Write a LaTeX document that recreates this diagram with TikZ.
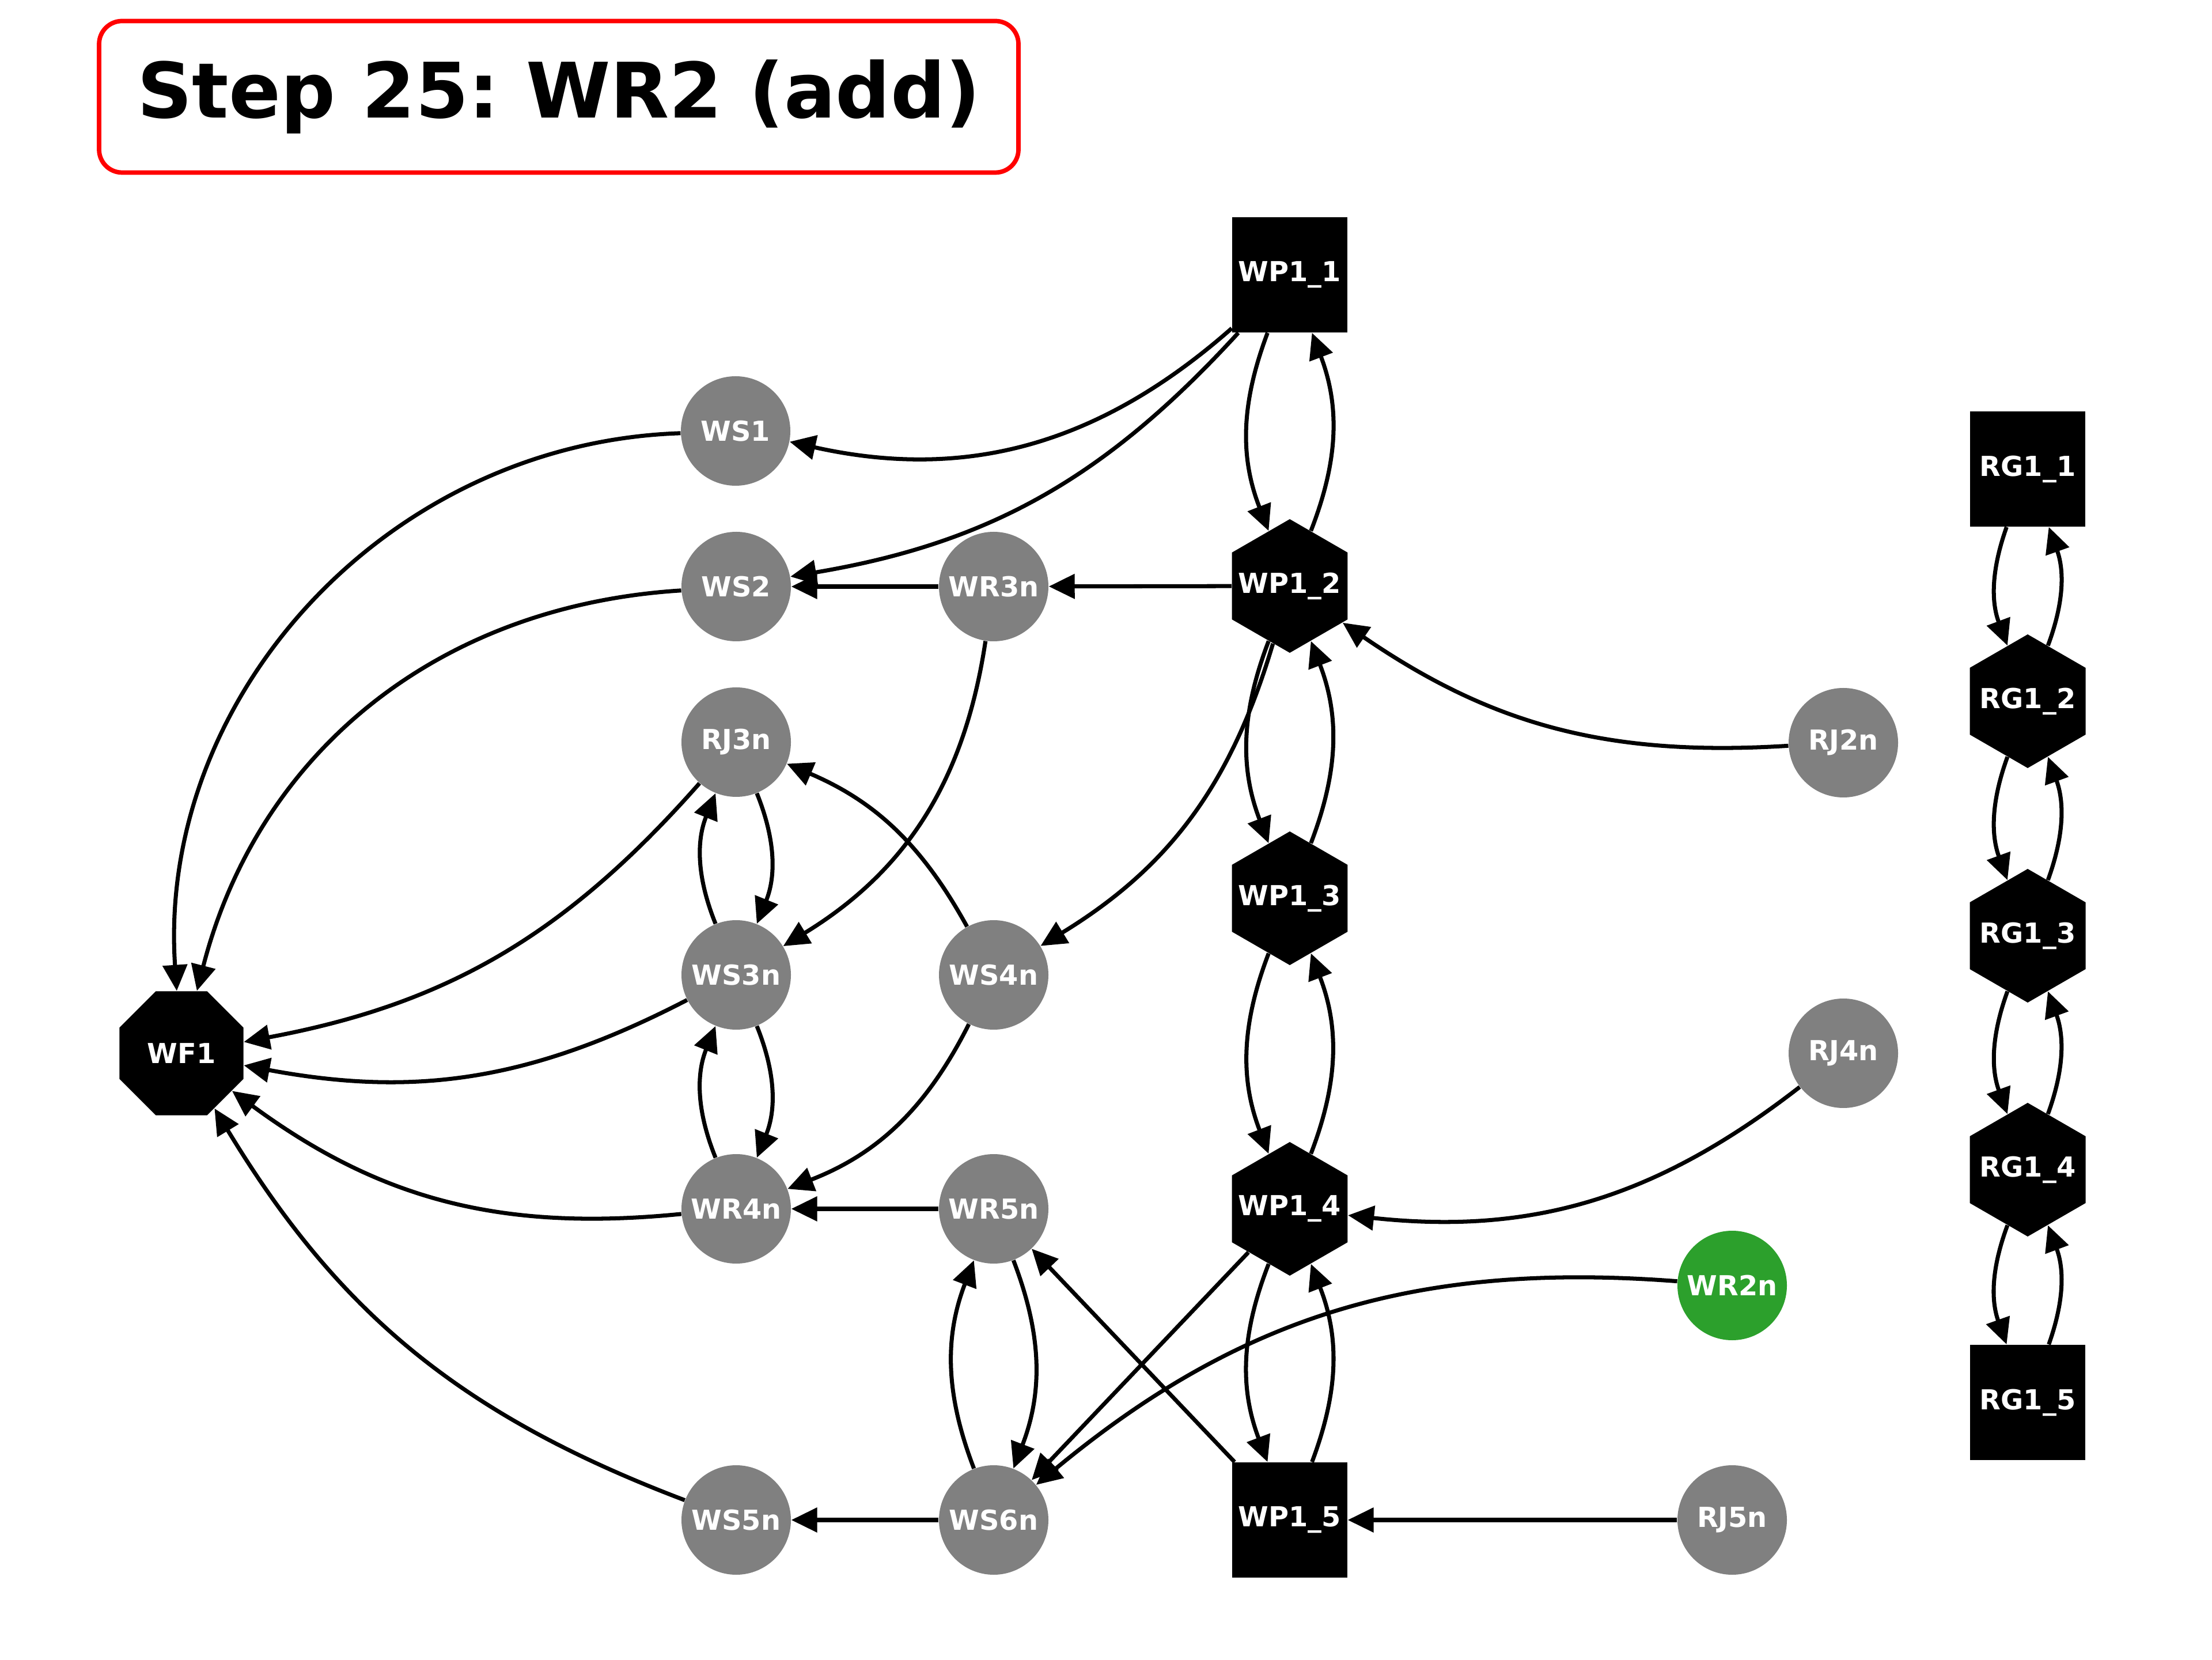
\documentclass[tikz,border=0pt]{standalone}
\usepackage{fontspec}
\setmainfont{DejaVu Sans}
\usepackage{xcolor}
\usepackage{tikz}
\usetikzlibrary{shapes,positioning,arrows.meta}

\definecolor{addgreen}{HTML}{2CA02C}

% hexagon labels take no width, so the size of the shape is fixed
\newcommand{\hexlabel}[1]{\makebox[0pt]{#1}}

\begin{document}
\frenchspacing
\begin{tikzpicture}[
    every node/.style={font=\fontsize{13.6}{16}\selectfont\bfseries, text=white, inner sep=0pt},
    gnode/.style={circle, fill=gray, minimum size=1.9cm},
    pbox/.style={rectangle, fill=black, minimum size=2cm},
    phex/.style={regular polygon, regular polygon sides=6, shape border rotate=30, fill=black, minimum size=2.32cm},
    foct/.style={regular polygon, regular polygon sides=8, fill=black, minimum size=2.33cm},
    link/.style={-{Triangle[length=0.45cm,width=0.42cm]}, line width=2pt},
    titlebox/.style={draw=red, line width=2.2pt, rounded corners=0.4cm, fill=white, text=black,
        font=\fontsize{37.8}{45}\selectfont\bfseries, minimum width=15.96cm, minimum height=2.63cm}
]
    \useasboundingbox (0,0) rectangle (38.4,28.8);

    % Title
    \node[titlebox] (title) at (9.70,27.12) {Step 25: WR2 (add)};

    % WP1 column
    \node[pbox] (wp11) at (22.39,24.03) {WP1\_1};
    \node[phex] (wp12) at (22.39,18.63) {\hexlabel{WP1\_2}};
    \node[phex] (wp13) at (22.39,13.21) {\hexlabel{WP1\_3}};
    \node[phex] (wp14) at (22.39,7.82) {\hexlabel{WP1\_4}};
    \node[pbox] (wp15) at (22.39,2.42) {WP1\_5};

    % RG1 column
    \node[pbox] (rg11) at (35.20,20.66) {RG1\_1};
    \node[phex] (rg12) at (35.20,16.63) {\hexlabel{RG1\_2}};
    \node[phex] (rg13) at (35.20,12.56) {\hexlabel{RG1\_3}};
    \node[phex] (rg14) at (35.20,8.50) {\hexlabel{RG1\_4}};
    \node[pbox] (rg15) at (35.20,4.46) {RG1\_5};

    % Final node
    \node[foct] (wf1) at (3.15,10.52) {WF1};

    % Grey nodes
    \node[gnode] (ws1) at (12.77,21.32) {WS1};
    \node[gnode] (ws2) at (12.78,18.62) {WS2};
    \node[gnode] (wr3n) at (17.25,18.62) {WR3n};
    \node[gnode] (rj3n) at (12.78,15.92) {RJ3n};
    \node[gnode] (rj2n) at (32.00,15.91) {RJ2n};
    \node[gnode] (ws3n) at (12.78,11.88) {WS3n};
    \node[gnode] (ws4n) at (17.25,11.88) {WS4n};
    \node[gnode] (rj4n) at (32.00,10.52) {RJ4n};
    \node[gnode] (wr4n) at (12.78,7.82) {WR4n};
    \node[gnode] (wr5n) at (17.25,7.82) {WR5n};
    \node[gnode] (ws5n) at (12.78,2.42) {WS5n};
    \node[gnode] (ws6n) at (17.25,2.42) {WS6n};
    \node[gnode] (rj5n) at (30.07,2.42) {RJ5n};
    \node[gnode, fill=addgreen] (wr2n) at (30.07,6.49) {WR2n}; % added

    % WP1 chain
    \draw[link] (wp11) to[bend right=21] (wp12);
    \draw[link] (wp12) to[bend right=21] (wp11);
    \draw[link] (wp12) to[bend right=21] (wp13);
    \draw[link] (wp13) to[bend right=21] (wp12);
    \draw[link] (wp13) to[bend right=21] (wp14);
    \draw[link] (wp14) to[bend right=21] (wp13);
    \draw[link] (wp14) to[bend right=21] (wp15);
    \draw[link] (wp15) to[bend right=21] (wp14);

    % RG1 chain
    \draw[link] (rg11) to[bend right=20] (rg12);
    \draw[link] (rg12) to[bend right=20] (rg11);
    \draw[link] (rg12) to[bend right=20] (rg13);
    \draw[link] (rg13) to[bend right=20] (rg12);
    \draw[link] (rg13) to[bend right=20] (rg14);
    \draw[link] (rg14) to[bend right=20] (rg13);
    \draw[link] (rg14) to[bend right=20] (rg15);
    \draw[link] (rg15) to[bend right=20] (rg14);

    % From the WP1 nodes
    \draw[link] (wp11) to[bend left=27] (ws1);
    \draw[link] (wp11) to[bend left=19] (ws2);
    \draw[link] (wp12) -- (wr3n);
    \draw[link] (wp12) to[bend left=21] (ws4n);
    \draw[link] (wp14) -- (ws6n);
    \draw[link] (wp15) -- (wr5n);

    % Into the WP1 nodes
    \draw[link] (rj2n) to[bend left=19] (wp12);
    \draw[link] (rj4n) to[bend left=22] (wp14);
    \draw[link] (rj5n) -- (wp15);
    \draw[link] (wr2n) to[bend right=22] (ws6n);

    % Middle nodes
    \draw[link] (wr3n) -- (ws2);
    \draw[link] (wr3n) to[bend left=25] (ws3n);
    \draw[link] (ws4n) to[bend right=19] (rj3n);
    \draw[link] (ws4n) to[bend left=21] (wr4n);
    \draw[link] (rj3n) to[bend left=22] (ws3n);
    \draw[link] (ws3n) to[bend left=22] (rj3n);
    \draw[link] (ws3n) to[bend left=22] (wr4n);
    \draw[link] (wr4n) to[bend left=22] (ws3n);
    \draw[link] (wr5n) -- (wr4n);
    \draw[link] (wr5n) to[bend left=21] (ws6n);
    \draw[link] (ws6n) to[bend left=21] (wr5n);
    \draw[link] (ws6n) -- (ws5n);

    % Into WF1
    \draw[link] (ws1) to[bend right=46] (wf1);
    \draw[link] (ws2) to[bend right=36] (wf1);
    \draw[link] (rj3n) to[bend left=19] (wf1);
    \draw[link] (ws3n) to[bend left=19] (wf1);
    \draw[link] (wr4n) to[bend left=21] (wf1);
    \draw[link] (ws5n) to[bend left=19] (wf1);
\end{tikzpicture}
\end{document}
